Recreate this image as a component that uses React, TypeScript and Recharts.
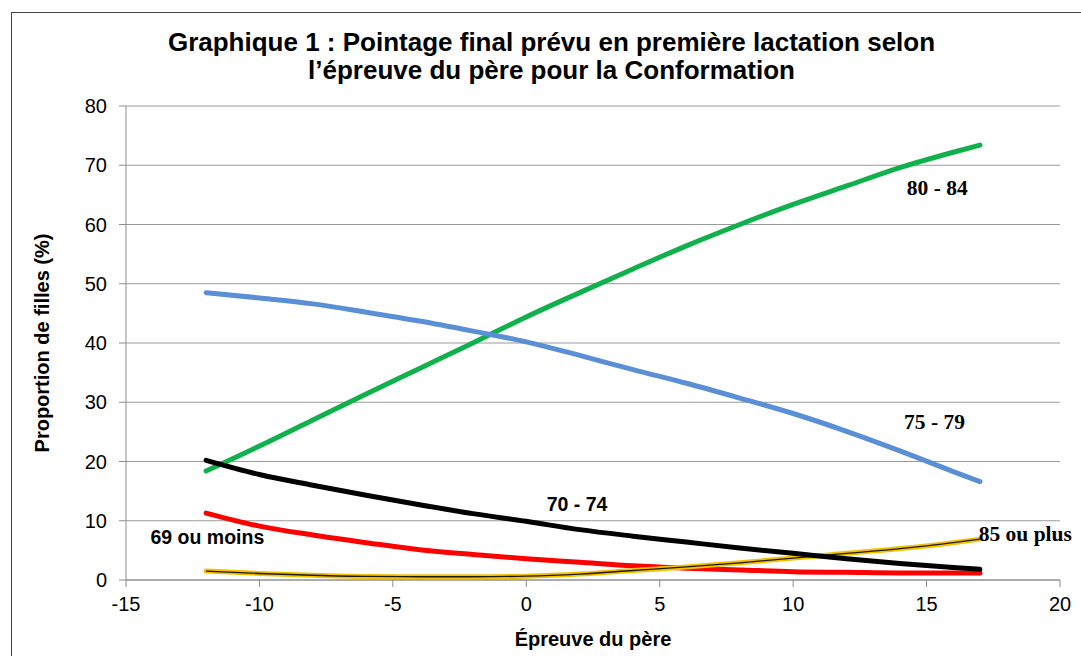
import React from 'react';
import { LineChart, Line, XAxis, YAxis, CartesianGrid, ReferenceDot } from 'recharts';

const xValues = [-12, -10, -8, -6, -4, -2, 0, 2, 4, 6, 8, 10, 12, 14, 16, 17];
const s80_84 = [18.4, 22.6, 27.0, 31.4, 35.7, 40.0, 44.4, 48.5, 52.5, 56.4, 60.0, 63.4, 66.5, 69.6, 72.2, 73.4];
const s75_79 = [48.5, 47.6, 46.6, 45.2, 43.7, 42.0, 40.2, 37.9, 35.5, 33.2, 30.7, 28.1, 25.1, 21.8, 18.3, 16.6];
const s70_74 = [20.2, 17.8, 16.0, 14.3, 12.7, 11.2, 9.9, 8.5, 7.4, 6.4, 5.4, 4.5, 3.6, 2.8, 2.1, 1.8];
const s69 = [11.3, 9.1, 7.6, 6.3, 5.1, 4.3, 3.6, 3.0, 2.4, 2.0, 1.7, 1.4, 1.3, 1.2, 1.2, 1.2];
const s85 = [1.5, 1.1, 0.8, 0.6, 0.55, 0.55, 0.65, 1.0, 1.6, 2.2, 2.9, 3.7, 4.5, 5.3, 6.3, 6.9];

const xTicks = [-15, -10, -5, 0, 5, 10, 15, 20];
const yTicks = [0, 10, 20, 30, 40, 50, 60, 70, 80];

const titleLines = [
  'Graphique 1 : Pointage final prévu en première lactation selon',
  'l\u2019épreuve du père pour la Conformation',
];
const xLabel = 'Épreuve du père';
const yLabel = 'Proportion de filles (%)';

const seriesLabels = [
  { text: '80 - 84', x: 15.4, y: 66.2, serif: true },
  { text: '75 - 79', x: 15.3, y: 26.7, serif: true },
  { text: '70 - 74', x: 1.9, y: 12.8, serif: false },
  { text: '69 ou moins', x: -11.95, y: 7.3, serif: false },
  { text: '85 ou plus', x: 18.7, y: 7.8, serif: true },
];

const data = xValues.map((x, i) => ({
  x,
  a: s80_84[i],
  b: s75_79[i],
  c: s70_74[i],
  d: s69[i],
  e: s85[i],
}));

const SANS = '"Liberation Sans", Arial, sans-serif';
const SERIF = '"Liberation Serif", "Times New Roman", serif';

const makeLabel = (text: string, serif: boolean) => (props: any) => {
  const { viewBox } = props;
  const cx = viewBox.cx !== undefined ? viewBox.cx : viewBox.x + (viewBox.width || 0) / 2;
  const cy = viewBox.cy !== undefined ? viewBox.cy : viewBox.y + (viewBox.height || 0) / 2;
  return (
    <text
      x={cx}
      y={cy}
      textAnchor="middle"
      dominantBaseline="central"
      style={{ fontFamily: serif ? SERIF : SANS, fontWeight: 'bold', fontSize: serif ? 21.5 : 19.5, fill: '#000' }}
    >
      {text}
    </text>
  );
};

export default function App() {
  return (
    <div style={{ position: 'absolute', left: 0, top: 0, width: 1081, height: 656, overflow: 'hidden', background: '#fff' }}>
      <div
        style={{
          position: 'absolute',
          left: 11,
          top: 12,
          width: 1100,
          height: 700,
          border: '1.5px solid #444',
          boxSizing: 'border-box',
        }}
      />
      <div
        style={{
          position: 'absolute',
          left: 11,
          top: 28,
          width: 1081,
          textAlign: 'center',
          fontFamily: SANS,
          fontWeight: 'bold',
          fontSize: 26,
          lineHeight: '28px',
          color: '#000',
        }}
      >
        {titleLines.map((l, i) => (
          <div key={i}>{l}</div>
        ))}
      </div>
      <div style={{ position: 'absolute', left: 0, top: 0 }}>
        <LineChart width={1081} height={656} data={data} margin={{ top: 106, right: 21, bottom: 0, left: 0 }}>
          <CartesianGrid horizontal vertical={false} stroke="#9a9a9a" strokeWidth={1} />
          <XAxis
            dataKey="x"
            type="number"
            domain={[-15, 20]}
            ticks={xTicks}
            interval={0}
            axisLine={{ stroke: '#8c8c8c' }}
            tickLine={{ stroke: '#8c8c8c' }}
            tickSize={7}
            tickMargin={10}
            height={76}
            tick={{ fontFamily: SANS, fontSize: 20, fill: '#000' }}
            label={{
              value: xLabel,
              position: 'insideBottom',
              offset: 10,
              style: { fontFamily: SANS, fontWeight: 'bold', fontSize: 20, fill: '#000' },
            }}
          />
          <YAxis
            type="number"
            domain={[0, 80]}
            ticks={yTicks}
            interval={0}
            width={126}
            axisLine={{ stroke: '#8c8c8c' }}
            tickLine={{ stroke: '#8c8c8c' }}
            tickSize={7}
            tickMargin={12}
            tick={{ fontFamily: SANS, fontSize: 20, fill: '#000' }}
            label={{
              value: yLabel,
              angle: -90,
              position: 'insideLeft',
              offset: 42,
              style: { textAnchor: 'middle', fontFamily: SANS, fontWeight: 'bold', fontSize: 20, fill: '#000' },
            }}
          />
          <Line type="monotone" dataKey="a" stroke="#10b04c" strokeWidth={5} dot={false} isAnimationActive={false} strokeLinecap="round" />
          <Line type="monotone" dataKey="b" stroke="#5a8fd6" strokeWidth={5} dot={false} isAnimationActive={false} strokeLinecap="round" />
          <Line type="monotone" dataKey="d" stroke="#ff0000" strokeWidth={5} dot={false} isAnimationActive={false} strokeLinecap="round" />
          <Line type="monotone" dataKey="e" stroke="#f5c000" strokeWidth={5} dot={false} isAnimationActive={false} strokeLinecap="round" />
          <Line type="monotone" dataKey="e" stroke="#1a1a1a" strokeWidth={1.3} dot={false} isAnimationActive={false} />
          <Line type="monotone" dataKey="c" stroke="#000000" strokeWidth={5} dot={false} isAnimationActive={false} strokeLinecap="round" />
          {seriesLabels.map((l, i) => (
            <ReferenceDot
              key={i}
              x={l.x}
              y={l.y}
              r={0}
              fill="none"
              stroke="none"
              ifOverflow="visible"
              label={{ content: makeLabel(l.text, l.serif) }}
            />
          ))}
        </LineChart>
      </div>
    </div>
  );
}
